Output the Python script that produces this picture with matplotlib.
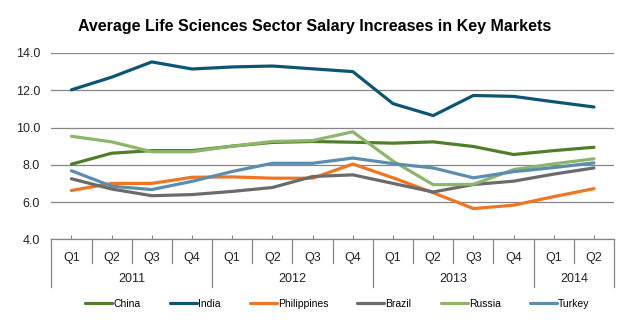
import matplotlib
matplotlib.use('Agg')
import matplotlib.pyplot as plt
import matplotlib.transforms as mtransforms

plt.rcParams['font.family'] = ['Liberation Sans', 'DejaVu Sans']

quarters = ['Q1', 'Q2', 'Q3', 'Q4', 'Q1', 'Q2', 'Q3', 'Q4',
            'Q1', 'Q2', 'Q3', 'Q4', 'Q1', 'Q2']
years = ['2011', '2012', '2013', '2014']
year_counts = [4, 4, 4, 2]

china       = [8.03, 8.62, 8.76, 8.76, 9.00, 9.20, 9.25, 9.21, 9.16, 9.23, 8.98, 8.55, 8.76, 8.94]
india       = [12.02, 12.70, 13.52, 13.14, 13.25, 13.30, 13.15, 13.00, 11.28, 10.64, 11.72, 11.67, 11.38, 11.10]
philippines = [6.62, 7.00, 7.00, 7.33, 7.35, 7.28, 7.28, 8.04, 7.30, 6.50, 5.65, 5.83, 6.29, 6.72]
brazil      = [7.25, 6.70, 6.34, 6.40, 6.57, 6.78, 7.37, 7.46, 7.00, 6.54, 6.94, 7.12, 7.50, 7.83]
russia      = [9.53, 9.23, 8.70, 8.70, 9.00, 9.25, 9.30, 9.77, 8.20, 6.93, 6.95, 7.74, 8.05, 8.32]
turkey      = [7.68, 6.85, 6.67, 7.11, 7.64, 8.08, 8.08, 8.36, 8.06, 7.83, 7.30, 7.63, 7.85, 8.10]

series = [('China', china, '#4F7F2B'),
          ('India', india, '#0B5673'),
          ('Philippines', philippines, '#F07523'),
          ('Brazil', brazil, '#6B6B6B'),
          ('Russia', russia, '#8DB56B'),
          ('Turkey', turkey, '#5B8DAF')]

fig = plt.figure(figsize=(6.39, 3.29), dpi=100)
ax = fig.add_axes([0.0803, 0.2726, 0.8807, 0.5664])

x = range(len(quarters))
for name, vals, col in series:
    ax.plot(x, vals, color=col, lw=2.3, label=name, solid_capstyle='round')

ax.set_xlim(-0.5, len(quarters) - 0.5)
ax.set_ylim(4, 14)
ax.set_yticks([4, 6, 8, 10, 12, 14])
ax.set_yticklabels(['%.1f' % v for v in [4, 6, 8, 10, 12, 14]])
ax.yaxis.grid(True, color='#868686', lw=0.9)
ax.set_axisbelow(True)
for s in ['left', 'right', 'top']:
    ax.spines[s].set_visible(False)
ax.spines['bottom'].set_color('#868686')
ax.spines['bottom'].set_linewidth(0.9)
ax.tick_params(axis='y', length=0, pad=8, labelsize=9, labelcolor='#222222')
ax.set_xticks(list(x))
ax.set_xticklabels(quarters)
ax.tick_params(axis='x', direction='in', length=3, color='#868686',
               pad=9, labelsize=9, labelcolor='#222222')

# category separators below the axis
trans = mtransforms.blended_transform_factory(ax.transData, ax.transAxes)
qdrop = 24 / 186.7
ydrop = 48 / 186.7
year_edges = [-0.5]
for c in year_counts:
    year_edges.append(year_edges[-1] + c)
for k in range(len(quarters) + 1):
    xb = k - 0.5
    d = ydrop if xb in year_edges else qdrop
    ax.plot([xb, xb], [0, -d], color='#868686', lw=0.9,
            transform=trans, clip_on=False)
for i, yr in enumerate(years):
    xc = (year_edges[i] + year_edges[i + 1]) / 2
    ax.text(xc, -40 / 186.7, yr, transform=trans, ha='center', va='center',
            fontsize=9, color='#222222')

fig.text(0.493, 1 - 27 / 329, 'Average Life Sciences Sector Salary Increases in Key Markets',
         ha='center', va='center', fontsize=11.5, fontweight='bold')

fig.legend(loc='center', bbox_to_anchor=(0.528, 0.076), ncol=6, frameon=False,
           fontsize=7.5, handlelength=2.6, handletextpad=0.1, columnspacing=2.8)

fig.savefig('out.png', dpi=100)
